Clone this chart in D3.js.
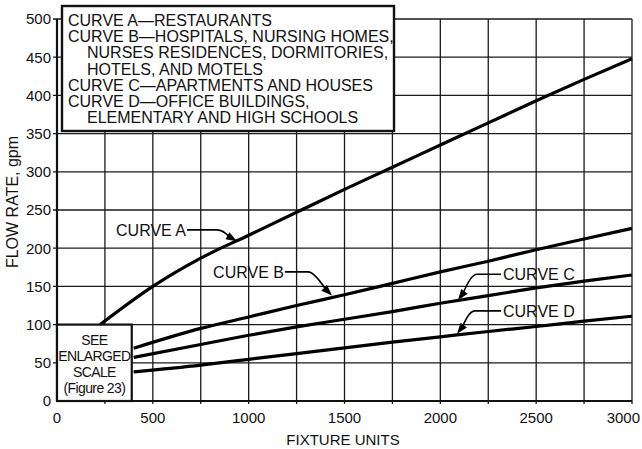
<!DOCTYPE html>
<html>
<head>
<meta charset="utf-8">
<script src="https://cdn.jsdelivr.net/npm/d3@7"></script>
<style>
  body { margin: 0; background: #fff; }
  text { font-family: "Liberation Sans", Arial, sans-serif; fill: #111; }
</style>
</head>
<body>
<svg id="chart" width="642" height="449"></svg>
<script>
// fixture units / flow rate (gpm)
var unitsA = [225, 500, 750, 1000, 1250, 1500, 1750, 2000, 2250, 2500, 2750, 3000];
var flowA  = [100, 150, 187, 217, 247, 277, 306, 335, 364, 393, 421, 448];

var unitsBCD = [400, 750, 1000, 1250, 1500, 1750, 2000, 2250, 2500, 2750, 3000];
var flowB = [69, 95, 110, 125, 139, 154, 169, 183, 198, 212, 226];
var flowC = [57, 74, 86, 97, 107, 117, 128, 138, 148, 157, 165];
var flowD = [38, 47, 54.5, 62, 69.5, 77, 84, 91, 97.5, 104.5, 111];

var xTicks = [0, 500, 1000, 1500, 2000, 2500, 3000];
var yTicks = [0, 50, 100, 150, 200, 250, 300, 350, 400, 450, 500];
var xGrid = d3.range(0, 3001, 250);

var legendLines = [
  {t: "CURVE A\u2014RESTAURANTS", indent: false},
  {t: "CURVE B\u2014HOSPITALS, NURSING HOMES,", indent: false},
  {t: "NURSES RESIDENCES, DORMITORIES,", indent: true},
  {t: "HOTELS, AND MOTELS", indent: true},
  {t: "CURVE C\u2014APARTMENTS AND HOUSES", indent: false},
  {t: "CURVE D\u2014OFFICE BUILDINGS,", indent: false},
  {t: "ELEMENTARY AND HIGH SCHOOLS", indent: true}
];

var enlargedLines = ["SEE", "ENLARGED", "SCALE", "(Figure 23)"];

// callouts, in data units: label end, elbow, arrow tip
var callouts = [
  {label: "CURVE A", side: "left",  lx: 673,  ly: 224, ex: 835,  tx: 939,  ty: 209},
  {label: "CURVE B", side: "left",  lx: 1184, ly: 169, ex: 1310, tx: 1435, ty: 138},
  {label: "CURVE C", side: "right", lx: 2327, ly: 166, ex: 2191, tx: 2092, ty: 132},
  {label: "CURVE D", side: "right", lx: 2327, ly: 118, ex: 2181, tx: 2087, ty: 88}
];

var svg = d3.select("#chart");
var mLeft = 57, mRight = 632, mTop = 19, mBottom = 401;

var x = d3.scaleLinear().domain([0, 3000]).range([mLeft, mRight]);
var y = d3.scaleLinear().domain([0, 500]).range([mBottom, mTop]);

// grid
svg.append("g").selectAll("line")
  .data(xGrid.slice(1))
  .enter().append("line")
  .attr("x1", function(d){ return x(d); }).attr("x2", function(d){ return x(d); })
  .attr("y1", y(0) + 3).attr("y2", y(500))
  .attr("stroke", "#1a1a1a").attr("stroke-width", 1.3);

svg.append("g").selectAll("line")
  .data(yTicks.slice(1))
  .enter().append("line")
  .attr("x1", x(0) - 4).attr("x2", x(3000))
  .attr("y1", function(d){ return y(d); }).attr("y2", function(d){ return y(d); })
  .attr("stroke", "#1a1a1a").attr("stroke-width", 1.3);

// axes lines
svg.append("line").attr("x1", x(0)).attr("x2", x(0)).attr("y1", y(0)).attr("y2", y(500))
  .attr("stroke", "#111").attr("stroke-width", 2.2);
svg.append("line").attr("x1", x(0)).attr("x2", x(3000)).attr("y1", y(0)).attr("y2", y(0))
  .attr("stroke", "#111").attr("stroke-width", 2.2);

// tick labels
svg.append("g").selectAll("text")
  .data(yTicks)
  .enter().append("text")
  .attr("x", x(0) - 6)
  .attr("y", function(d){ return y(d); })
  .attr("dy", "0.36em")
  .attr("text-anchor", "end")
  .style("font-size", "15px")
  .text(function(d){ return d; });

svg.append("g").selectAll("text")
  .data(xTicks)
  .enter().append("text")
  .attr("x", function(d){ return d == 3000 ? x(d) + 8 : x(d); })
  .attr("y", y(0) + 22)
  .attr("text-anchor", function(d){ return d == 3000 ? "end" : "middle"; })
  .style("font-size", "15px")
  .text(function(d){ return d; });

svg.append("text")
  .attr("x", 343).attr("y", 445)
  .attr("text-anchor", "middle")
  .style("font-size", "15px")
  .text("FIXTURE UNITS");

svg.append("text")
  .attr("transform", "translate(18,202) rotate(-90)")
  .attr("text-anchor", "middle")
  .style("font-size", "16px")
  .text("FLOW RATE, gpm");

// curves
var line = d3.line()
  .x(function(d){ return x(d[0]); })
  .y(function(d){ return y(d[1]); })
  .curve(d3.curveMonotoneX);

var series = [
  d3.zip(unitsA, flowA),
  d3.zip(unitsBCD, flowB),
  d3.zip(unitsBCD, flowC),
  d3.zip(unitsBCD, flowD)
];

svg.append("g").selectAll("path")
  .data(series)
  .enter().append("path")
  .attr("d", line)
  .attr("fill", "none")
  .attr("stroke", "#000")
  .attr("stroke-width", 3.2)
  .attr("stroke-linecap", "butt");

// enlarged scale box
svg.append("rect")
  .attr("x", x(0)).attr("y", y(100))
  .attr("width", x(390) - x(0)).attr("height", y(0) - y(100))
  .attr("fill", "#fff").attr("stroke", "#111").attr("stroke-width", 2.2);

svg.append("g").selectAll("text")
  .data(enlargedLines)
  .enter().append("text")
  .attr("x", (x(0) + x(390)) / 2)
  .attr("y", function(d, i){ return y(100) + 20 + i * 16; })
  .attr("text-anchor", "middle")
  .style("font-size", "14px")
  .style("letter-spacing", "-0.6px")
  .text(function(d){ return d; });

// legend box
svg.append("rect")
  .attr("x", 62).attr("y", 6)
  .attr("width", 332).attr("height", 125)
  .attr("fill", "#fff").attr("stroke", "#111").attr("stroke-width", 2.4);

svg.append("g").selectAll("text")
  .data(legendLines)
  .enter().append("text")
  .attr("x", function(d){ return d.indent ? 87 : 68; })
  .attr("y", function(d, i){ return 26 + i * 16.2; })
  .style("font-size", "16px")
  .text(function(d){ return d.t; });

// callouts
var co = svg.append("g").selectAll("g")
  .data(callouts)
  .enter().append("g");

co.append("text")
  .attr("x", function(d){ return x(d.lx); })
  .attr("y", function(d){ return y(d.ly); })
  .attr("dy", "0.36em")
  .attr("text-anchor", function(d){ return d.side == "left" ? "end" : "start"; })
  .style("font-size", "16px")
  .text(function(d){ return d.label; });

function tipGeom(d) {
  var sx = d.side == "left" ? x(d.lx) + 1 : x(d.lx) - 2;
  var sy = y(d.ly);
  var ex = x(d.ex), tx = x(d.tx), ty = y(d.ty);
  var ang = Math.atan2(ty - sy, tx - ex);
  return {sx: sx, sy: sy, ex: ex, tx: tx, ty: ty, ang: ang};
}

co.append("path")
  .attr("d", function(d){
    var g = tipGeom(d);
    var bx = g.tx - Math.cos(g.ang) * 9, by = g.ty - Math.sin(g.ang) * 9;
    var cx = g.ex + (d.side == "left" ? 6 : -6);
    return "M" + g.sx + "," + g.sy + " L" + g.ex + "," + g.sy +
      " Q" + cx + "," + g.sy + " " + bx + "," + by;
  })
  .attr("fill", "none")
  .attr("stroke", "#000")
  .attr("stroke-width", 1.6);

co.append("path")
  .attr("d", function(d){
    var g = tipGeom(d);
    var len = 11, w = 4;
    var bx = g.tx - Math.cos(g.ang) * len, by = g.ty - Math.sin(g.ang) * len;
    var px = -Math.sin(g.ang) * w, py = Math.cos(g.ang) * w;
    return "M" + g.tx + "," + g.ty + " L" + (bx + px) + "," + (by + py) +
      " L" + (bx - px) + "," + (by - py) + " Z";
  })
  .attr("fill", "#000");
</script>
</body>
</html>
